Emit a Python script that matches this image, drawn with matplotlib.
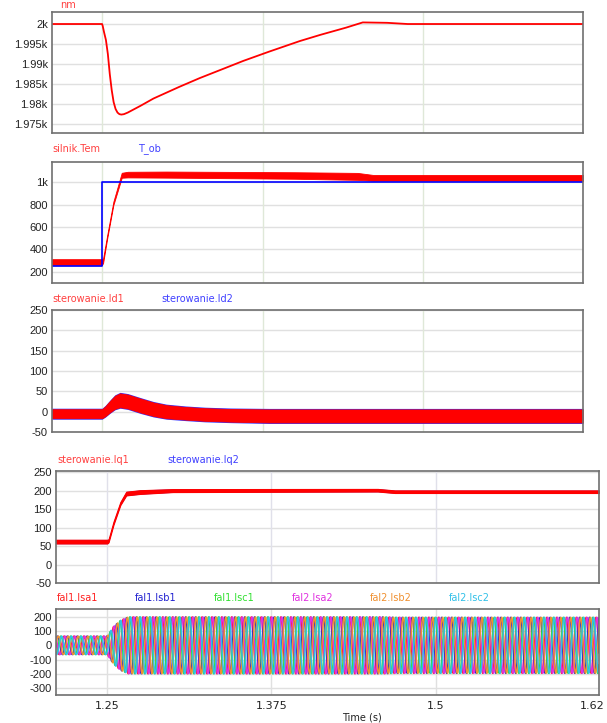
import numpy as np
import matplotlib
matplotlib.use("Agg")
import matplotlib.pyplot as plt
from matplotlib.ticker import FixedLocator, NullFormatter

W, H = 607, 723

# --- dane ---
# predkosc nm
t_nm = [1.211, 1.25, 1.2505, 1.2515, 1.253, 1.2545, 1.256, 1.2575, 1.259, 1.2605,
        1.262, 1.2635, 1.265, 1.267, 1.27, 1.28, 1.29, 1.31, 1.326, 1.345, 1.36,
        1.38, 1.404, 1.42, 1.44, 1.453, 1.472, 1.488, 1.6245]
nm = [2000, 2000, 1999.5, 1998.0, 1996.0, 1992.5, 1987.5, 1983.5, 1980.5, 1978.8,
      1977.9, 1977.5, 1977.4, 1977.5, 1977.9, 1979.6, 1981.4, 1984.3, 1986.5, 1988.9, 1990.8,
      1993.1, 1995.75, 1997.3, 1999.1, 2000.4, 2000.3, 2000.0, 2000.0]

# moment silnika (srodek pasma i polowa szerokosci tetnien)
t_tem = [1.211, 1.2498, 1.2508, 1.254, 1.2588, 1.2653, 1.27, 1.30, 1.40, 1.449, 1.461, 1.6245]
tem_mid = [287, 287, 300, 514, 811, 1060, 1066, 1066, 1058, 1050, 1037, 1037]
tem_half = [27, 27, 20, 15, 15, 22, 25, 27, 29, 31, 26, 26]
t_tob = [1.211, 1.25, 1.25, 1.6245]
tob = [250, 250, 1000, 1000]

# prad Id
t_id = [1.211, 1.2500, 1.2525, 1.2564, 1.2600, 1.264, 1.27, 1.28, 1.29, 1.30,
        1.315, 1.33, 1.35, 1.38, 1.6245]
id_mid = [-5, -5, 1, 13, 23, 28, 25, 15, 6, 0, -4, -7, -9, -10.5, -10.5]
id_half = [11, 11, 12, 14, 16, 17, 17, 17, 16.5, 16, 15.5, 15.5, 15.5, 16, 16]

# prad Iq
t_iq = [1.211, 1.2500, 1.2510, 1.2548, 1.2600, 1.2645, 1.275, 1.30, 1.456, 1.469, 1.6245]
iq_mid = [62, 62, 64, 112, 165, 192, 196, 200, 201, 197, 197]
iq_half = [5, 5, 4, 4, 4, 5, 5, 4, 3.5, 3.5, 3.5]

# prady fazowe - obwiednia amplitudy
t_env = [1.211, 1.25, 1.2548, 1.2600, 1.266, 1.46, 1.47, 1.6245]
amp_env = [65, 65, 132, 175, 200, 200, 197, 197]
f_el = 133.3
phase_names = ["fal1.Isa1", "fal1.Isb1", "fal1.Isc1", "fal2.Isa2", "fal2.Isb2", "fal2.Isc2"]
phase_deg = [0, -120, 120, -30, -150, 90]
phase_colors = ["#ff2020", "#2020d0", "#30e030", "#e030e0", "#f09030", "#30c0e8"]

xlim = (1.211, 1.6245)
grid_x = [1.25, 1.375, 1.5]


def box(l, t, r, b):
    return [l / W, 1 - b / H, (r - l) / W, (b - t) / H]


def label(x, y, s, c):
    fig.text(x / W, 1 - y / H, s, color=c, fontsize=7, family="DejaVu Sans", va="center")


def style(ax, yticks, ylabels, ylim, vcol="#dfe8d8"):
    ax.set_xlim(*xlim)
    ax.set_ylim(*ylim)
    ax.yaxis.set_major_locator(FixedLocator(yticks))
    ax.set_yticklabels(ylabels, fontsize=8, family="Liberation Sans", color="#222222")
    ax.xaxis.set_major_locator(FixedLocator(grid_x))
    ax.xaxis.set_major_formatter(NullFormatter())
    ax.tick_params(length=0, pad=3)
    for y in yticks:
        ax.axhline(y, color="#e0e0e0", lw=1, zorder=0)
    for x in grid_x:
        ax.axvline(x, color=vcol, lw=1, zorder=0)
    for s in ax.spines.values():
        s.set_color("#707070")
        s.set_linewidth(1.2)


fig = plt.figure(figsize=(W / 100, H / 100), dpi=100)

# panel 1
ax1 = fig.add_axes(box(52, 12, 583, 133))
ax1.plot(t_nm, nm, color="red", lw=1.3)
style(ax1, [1975, 1980, 1985, 1990, 1995, 2000],
      ["1.975k", "1.98k", "1.985k", "1.99k", "1.995k", "2k"], (1972.8, 2003))
label(60, 4.5, "nm", "#ff4040")

# panel 2
ax2 = fig.add_axes(box(52, 162, 583, 283))
lo = np.array(tem_mid) - np.array(tem_half)
hi = np.array(tem_mid) + np.array(tem_half)
ax2.fill_between(t_tem, lo, hi, color="red", lw=0.6, edgecolor="red")
ax2.plot(t_tob, tob, color="blue", lw=1.2)
style(ax2, [200, 400, 600, 800, 1000], ["200", "400", "600", "800", "1k"], (102, 1178))
label(52, 149, "silnik.Tem", "#ff4040")
label(138, 149, "T_ob", "#4040ff")

# panel 3
ax3 = fig.add_axes(box(52, 310, 583, 432))
mid = np.array(id_mid)
half = np.array(id_half)
ax3.fill_between(t_id, mid - half - 2.5, mid + half + 2.5, color="#3030ff", lw=0)
ax3.fill_between(t_id, mid - half, mid + half, color="red", lw=0.6, edgecolor="red")
style(ax3, [-50, 0, 50, 100, 150, 200, 250],
      ["-50", "0", "50", "100", "150", "200", "250"], (-50, 250))
label(52, 299, "sterowanie.Id1", "#ff4040")
label(161, 299, "sterowanie.Id2", "#4040ff")

# panel 4
ax4 = fig.add_axes(box(56, 471, 599, 583))
mid = np.array(iq_mid)
half = np.array(iq_half)
ax4.fill_between(t_iq, mid - half - 0.8, mid + half + 0.8, color="#6030c0", lw=0)
ax4.fill_between(t_iq, mid - half, mid + half, color="red", lw=0.8, edgecolor="red")
style(ax4, [-50, 0, 50, 100, 150, 200, 250],
      ["-50", "0", "50", "100", "150", "200", "250"], (-50, 253), vcol="#e0e0ea")
label(57, 460, "sterowanie.Iq1", "#ff4040")
label(167, 460, "sterowanie.Iq2", "#4040ff")

# panel 5
ax5 = fig.add_axes(box(56, 609, 599, 695))
t = np.arange(xlim[0], xlim[1], 2e-5)
amp = np.interp(t, t_env, amp_env)
for name, ph, c in zip(phase_names, phase_deg, phase_colors):
    ax5.plot(t, amp * np.sin(2 * np.pi * f_el * t + np.deg2rad(ph)), color=c, lw=1.1)
style(ax5, [-300, -200, -100, 0, 100, 200],
      ["-300", "-200", "-100", "0", "100", "200"], (-350, 256), vcol="#e0e0e0")
ax5.xaxis.set_major_locator(FixedLocator([1.25, 1.375, 1.5, 1.619]))
ax5.set_xticklabels(["1.25", "1.375", "1.5", "1.62"], fontsize=8,
                    family="DejaVu Sans", color="#222222")
ax5.tick_params(axis="x", pad=4)
for i, (name, c) in enumerate(zip(phase_names, phase_colors)):
    label(57 + 78.3 * i, 598, name, c)

fig.text(362 / W, 1 - 718 / H, "Time (s)", fontsize=7, family="DejaVu Sans",
         ha="center", va="center", color="#222222")

fig.savefig("out.png", dpi=100)
